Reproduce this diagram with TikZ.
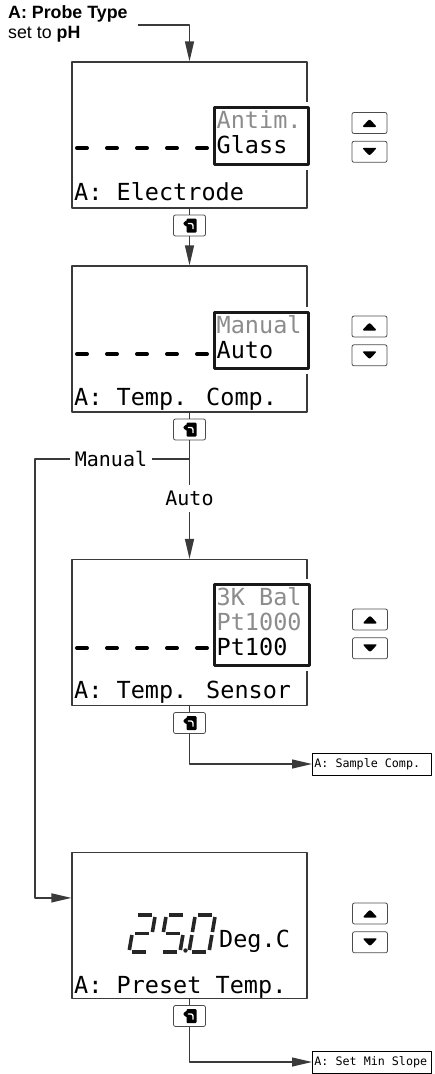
\documentclass[tikz,border=0pt]{standalone}
\usepackage{fontspec}
\usepackage{xcolor}
\newfontfamily\lcdfont{DejaVu Sans Mono}
\newfontfamily\labelfont{Liberation Sans}
\usetikzlibrary{arrows.meta,positioning}

\definecolor{linegray}{HTML}{3A3A3A}
\definecolor{optgray}{HTML}{8C8C8C}

\tikzset{
  screen/.style={draw=linegray,line width=1.2pt,minimum width=235pt,minimum height=146pt,inner sep=0pt},
  optbox/.style={draw=black!90,line width=2.6pt,fill=white,inner sep=0pt,anchor=north west,
    preaction={draw=white,line width=11pt}},
  lcd/.style={font=\lcdfont\fontsize{23.5}{25}\selectfont,inner sep=0pt,anchor=base west},
  lcddash/.style={line width=4pt,line cap=round,dash pattern=on 10pt off 20pt},
  lcdseg/.style={draw=black!85,line width=3.6pt},
  seg a/.style={insert path={(3,-37) -- (17,-37)}},
  seg b/.style={insert path={(20,-35) -- (20,-20)}},
  seg c/.style={insert path={(20,-17) -- (20,-2)}},
  seg d/.style={insert path={(3,0) -- (17,0)}},
  seg e/.style={insert path={(0,-17) -- (0,-2)}},
  seg f/.style={insert path={(0,-35) -- (0,-20)}},
  seg g/.style={insert path={(3,-18.5) -- (17,-18.5)}},
  keybtn/.style={draw=black!70,line width=0.8pt,rounded corners=2pt,minimum width=35pt,
    minimum height=21pt,inner sep=0pt},
  upkey/.style={keybtn,path picture={
      \fill ([shift={(-7.5pt,-4pt)}]path picture bounding box.center)
        -- ++(15pt,0pt) -- ++(-7.5pt,8pt) -- cycle;}},
  downkey/.style={keybtn,path picture={
      \fill ([shift={(-7.5pt,4pt)}]path picture bounding box.center)
        -- ++(15pt,0pt) -- ++(-7.5pt,-8pt) -- cycle;}},
  enterkey/.style={keybtn,minimum width=32pt,path picture={
      \coordinate (keymid) at (path picture bounding box.center);
      \fill[rounded corners=1pt] ([shift={(-3pt,-7pt)}]keymid) rectangle ([shift={(7pt,7pt)}]keymid);
      \draw[white,line width=1.4pt] ([shift={(3.5pt,-3.5pt)}]keymid) -- ([shift={(3.5pt,2pt)}]keymid)
        -- ([shift={(-2pt,2pt)}]keymid);
      \fill ([shift={(-2pt,6pt)}]keymid) -- ([shift={(-7pt,2pt)}]keymid)
        -- ([shift={(-2pt,-2pt)}]keymid) -- cycle;}},
  menubox/.style={draw=black,line width=0.9pt,font=\lcdfont\fontsize{11.7}{13}\selectfont,
    anchor=west,inner xsep=2pt,inner ysep=0pt,minimum height=22pt},
}

\newcommand\lcddigit[3]{%
  \begin{scope}[shift={(#1,#2)},xslant=0.17]
    \foreach \s in {#3} \draw[lcdseg,seg \s];
  \end{scope}}

\begin{document}
\begin{tikzpicture}[x=1pt,y=-1pt,line join=round,
    flow/.style={draw=linegray,line width=1.2pt,-{Triangle[length=20pt,width=9pt]}},
    wire/.style={draw=linegray,line width=1.2pt},
    branchlbl/.style={font=\lcdfont\fontsize{20}{22}\selectfont,inner xsep=5pt,inner ysep=6pt}]
  \useasboundingbox (0,0) rectangle (434,1074);

  \node[font=\labelfont\fontsize{17.8}{20}\selectfont,align=left,inner sep=0pt,anchor=north west]
    (probe) at (8,5) {\textbf{A: Probe Type}\\set to \textbf{pH}};

  % screens
  \node[screen] (electrode) at (189.5,135) {};
  \node[screen] (tempcomp) at (189.5,339) {};
  \node[screen] (sensor) at (189.5,632.5) {};
  \node[screen] (preset) at (189.5,925.5) {};

  \node[optbox,minimum width=94pt,minimum height=57pt] (elecopt) at (213,106) {};
  \node[optbox,minimum width=94pt,minimum height=56pt] (compopt) at (213,311) {};
  \node[optbox,minimum width=95pt,minimum height=81pt] (sensopt) at (213,583) {};

  \draw[lcddash] (77,148) -- (207,148);
  \draw[lcddash] (77,354) -- (207,354);
  \draw[lcddash] (77,648) -- (207,648);

  \node[lcd,optgray] (antim) at (216.5,128) {Antim.};
  \node[lcd] (glass) at (216.5,153) {Glass};
  \node[lcd] (electitle) at (74,200) {A: Electrode};

  \node[lcd,optgray] (manualopt) at (216.5,333) {Manual};
  \node[lcd] (autoopt) at (216.5,358) {Auto};
  \node[lcd] (comptitle) at (74,405) {A: Temp. Comp.};

  \node[lcd,optgray] (threek) at (216.5,605) {3K Bal};
  \node[lcd,optgray] (ptthou) at (216.5,630) {Pt1000};
  \node[lcd] (pthund) at (216.5,655) {Pt100};
  \node[lcd] (senstitle) at (74,698) {A: Temp. Sensor};

  \lcddigit{129}{952}{a,b,g,e,d}
  \lcddigit{160}{952}{a,f,g,c,d}
  \lcddigit{189}{952}{a,b,c,d,e,f}
  \fill[black!85] (185.5,950.5) circle (2.2pt);
  \node[lcd] (degc) at (219,947) {Deg.C};
  \node[lcd] (presettitle) at (74,993) {A: Preset Temp.};

  % keys
  \node[upkey] (elecup) at (369.5,123) {};
  \node[downkey,below=7pt of elecup] (elecdown) {};
  \node[upkey] (compup) at (369.5,326.5) {};
  \node[downkey,below=7pt of compup] (compdown) {};
  \node[upkey] (sensup) at (370,619.5) {};
  \node[downkey,below=7pt of sensup] (sensdown) {};
  \node[upkey] (presetup) at (370,913.5) {};
  \node[downkey,below=7pt of presetup] (presetdown) {};

  \node[enterkey,below=6pt of electrode] (elecenter) {};
  \node[enterkey,below=6pt of tempcomp] (compenter) {};
  \node[enterkey,below=6pt of sensor] (sensenter) {};
  \node[enterkey,below=6pt of preset] (presetenter) {};

  \node[menubox] (samplecomp) at (312,764) {\makebox[115pt][l]{A: Sample Comp.}};
  \node[menubox] (minslope) at (312,1062) {\makebox[115pt][l]{A: Set Min Slope}};

  % flow
  \coordinate (probeend) at (138,25);
  \draw[flow] (probeend) -| (electrode.north);
  \draw[wire] (electrode.south) -- (elecenter.north);
  \draw[flow] (elecenter.south) -- (tempcomp.north);
  \draw[wire] (tempcomp.south) -- (compenter.north);

  \coordinate (split) at (189.5,459);
  \node[branchlbl] (auto) at (189.5,498.5) {Auto};
  \node[branchlbl] (manual) at (111,459) {Manual};
  \coordinate (manualbend) at (35,459);
  \draw[wire] (compenter.south) -- (split) -- (auto.north);
  \draw[flow] (auto.south) -- (sensor.north);
  \draw[wire] (split) -- (manual.east);
  \draw[flow] (manual.west) -- (manualbend) |- ([yshift=-46pt]preset.north west);

  \draw[wire] (sensor.south) -- (sensenter.north);
  \draw[flow] (sensenter.south) |- (samplecomp.west);
  \draw[wire] (preset.south) -- (presetenter.north);
  \draw[flow] (presetenter.south) |- (minslope.west);
\end{tikzpicture}
\end{document}
